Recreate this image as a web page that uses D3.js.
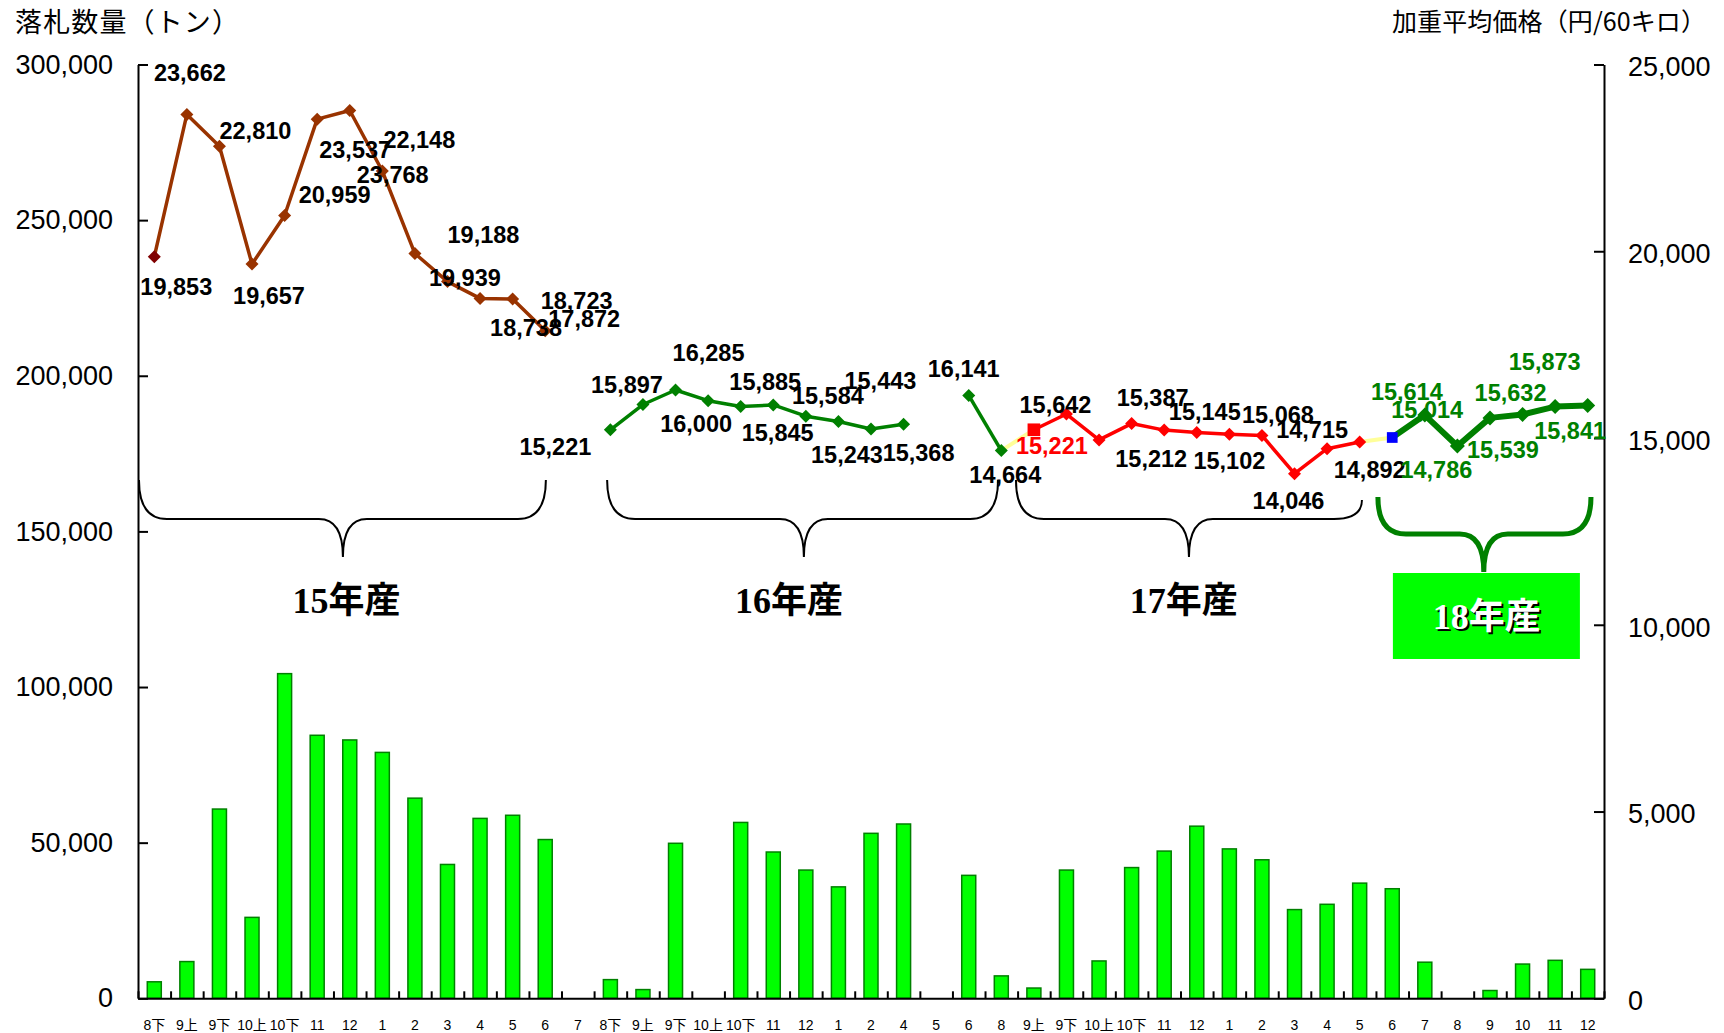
<!DOCTYPE html>
<html>
<head>
<meta charset="utf-8">
<script src="https://cdn.jsdelivr.net/npm/d3@7"></script>
<style>
  body { margin: 0; background: #fff; }
  text { font-family: 'Liberation Sans', Arial, 'Noto Sans CJK JP', sans-serif; }
</style>
</head>
<body>
<svg id="chart" width="1724" height="1033"></svg>
<script>
// categories (x axis), one per bar
const categories = [
  '8下', '9上', '9下', '10上', '10下', '11', '12', '1', '2', '3', '4', '5', '6', '7',
  '8下', '9上', '9下', '10上', '10下', '11', '12', '1', '2', '4', '5', '6', '8',
  '9上', '9下', '10上', '10下', '11', '12', '1', '2', '3', '4', '5', '6',
  '7', '8', '9', '10', '11', '12'
]

// 落札数量 (tons)
const volume = [
  5300, 11800, 60800, 26000, 104300, 84500, 83000, 79000, 64300, 43000, 57800, 58800, 51000, 0,
  6000, 2800, 49800, 0, 56500, 47000, 41200, 35800, 53000, 56000, 0, 39500, 7200,
  3300, 41200, 12000, 42000, 47300, 55300, 48000, 44500, 28500, 30200, 37000, 35200,
  11600, 0, 2500, 11000, 12200, 9300
]

// 加重平均価格 (円/60kg), each series starts at a category index
const price15 = [19853, 23662, 22810, 19657, 20959, 23537, 23768, 22148, 19939, 19188, 18738, 18723, 17872]
const price15Start = 0
const price16 = [15221, 15897, 16285, 16000, 15845, 15885, 15584, 15443, 15243, 15368]
const price16Start = 14
const price16b = [16141, 14664]
const price16bStart = 25
const price17 = [15221, 15642, 14950, 15387, 15212, 15145, 15102, 15068, 14046, 14715, 14892]
const price17Start = 27
const price18 = [15014, 15614, 14786, 15539, 15632, 15841, 15873]
const price18Start = 38

const leftTicks = [0, 50000, 100000, 150000, 200000, 250000, 300000]
const rightTicks = [0, 5000, 10000, 15000, 20000, 25000]

// label offsets from their point (px); null = no label
const lab15 = [[22, 30], [3, -42], [36, -16], [17, 31], [50, -21], [38, 30], [43, 64], [37, -31], [50, 24], [36, -47], [46, 29], [64, 2], [39, -12]]
const lab16 = [[-55, 17], [-16, -20], [33, -37], [-12, 23], [37, 26], [-8, -23], [22, -21], [42, -41], [-24, 26], [15, 28]]
const lab16b = [[-5, -27], [4, 24]]
const lab17 = [[18, 16], [-11, -10], null, [21, -26], [-13, 28], [8, -21], [0, 26], [16, -21], [-6, 27], [-15, -19], [10, 27]]
const lab18 = [[35, -28], [-18, -24], [-21, 24], [13, 32], [-12, -22], [15, 24], [-43, -44]]

// crop-year annotations, in category units
const groups = [
  { name: '15年産', from: 0.03, to: 12.52, tip: 6.29, text: 6.4 },
  { name: '16年産', from: 14.4, to: 26.4, tip: 20.44, text: 19.98 },
  { name: '17年産', from: 26.95, to: 37.57, tip: 32.26, text: 32.1 }
]

const svg = d3.select('#chart')
const margin = { top: 64.5, right: 120, bottom: 34.7, left: 138 }
const width = +svg.attr('width') - margin.left - margin.right
const height = +svg.attr('height') - margin.top - margin.bottom
const g = svg.append('g').attr('transform', 'translate(' + margin.left + ',' + margin.top + ')')

const x = d3.scaleBand()
  .domain(d3.range(categories.length))
  .range([0, width])
  .paddingInner(0.57)
  .paddingOuter(0.285)
const xc = (i) => x(i) + x.bandwidth() / 2
const xu = d3.scaleLinear().domain([0, categories.length]).range([0, width])

const yL = d3.scaleLinear().domain([0, 300000]).range([height, 0])
const yR = d3.scaleLinear().domain([0, 25000]).range([height, 0])

// bars
g.selectAll('rect.bar')
  .data(volume)
  .join('rect')
  .attr('class', 'bar')
  .attr('x', (d, i) => x(i))
  .attr('width', x.bandwidth())
  .attr('y', (d) => yL(d))
  .attr('height', (d) => height - yL(d))
  .attr('fill', '#00ff00')
  .attr('stroke', '#008000')
  .attr('stroke-width', 1.5)
  .style('display', (d) => (d > 0 ? null : 'none'))

// axes
const styleAxis = (sel, size) => {
  sel.select('.domain').attr('stroke', '#000').attr('stroke-width', 2)
  sel.selectAll('.tick line').attr('stroke', '#000').attr('stroke-width', 2)
  sel.selectAll('.tick text').attr('font-size', size).attr('fill', '#000')
    .style('font-family', "'Liberation Sans', Arial, 'Noto Sans CJK JP', sans-serif")
}

g.append('g')
  .call(d3.axisLeft(yL).tickValues(leftTicks).tickFormat(d3.format(',')).tickSizeInner(-10).tickSizeOuter(0).tickPadding(25))
  .call((s) => styleAxis(s, 27))

g.append('g')
  .attr('transform', `translate(${width},0)`)
  .call(d3.axisRight(yR).tickValues(rightTicks).tickFormat(d3.format(',')).tickSizeInner(-10).tickSizeOuter(0).tickPadding(24))
  .call((s) => styleAxis(s, 27))
  .call((s) => s.selectAll('.tick text').attr('dy', '0.42em'))

g.append('g')
  .attr('transform', `translate(0,${height})`)
  .call(d3.axisBottom(xu).tickValues(d3.range(0, categories.length + 1)).tickFormat('').tickSizeInner(-7).tickSizeOuter(0))
  .call((s) => styleAxis(s, 14))

g.append('g')
  .attr('transform', `translate(0,${height})`)
  .call(d3.axisBottom(x).tickFormat((i) => categories[i]).tickSize(0).tickPadding(22))
  .call((s) => {
    s.select('.domain').remove()
    s.selectAll('.tick text').attr('font-size', 14).attr('fill', '#000')
      .style('font-family', "'Liberation Sans', Arial, 'Noto Sans CJK JP', sans-serif")
  })

// axis titles
svg.append('text').attr('x', 15).attr('y', 32).attr('font-size', 27)
  .attr('textLength', 224).attr('lengthAdjust', 'spacing')
  .style('font-family', "'Noto Sans CJK JP', sans-serif").text('落札数量（トン）')
svg.append('text').attr('x', 1392).attr('y', 31).attr('font-size', 25)
  .attr('textLength', 314).attr('lengthAdjust', 'spacing')
  .style('font-family', "'Noto Sans CJK JP', sans-serif").text('加重平均価格（円/60キロ）')

// braces
const bracePath = (x0, x1, xm, yTopL, yTopR, yMid, yTip) => {
  const r = 28, c = 24
  return `M${x0},${yTopL} Q${x0},${yMid} ${x0 + r},${yMid} L${xm - c},${yMid} Q${xm},${yMid} ${xm},${yTip}` +
    ` Q${xm},${yMid} ${xm + c},${yMid} L${x1 - r},${yMid} Q${x1},${yMid} ${x1},${yTopR}`
}
const ann = svg.append('g').attr('transform', `translate(${margin.left},0)`)
groups.forEach((gr, k) => {
  ann.append('path')
    .attr('d', bracePath(xu(gr.from), xu(gr.to), xu(gr.tip), 480, k === 2 ? 500 : 480, 519, 557))
    .attr('fill', 'none').attr('stroke', '#000').attr('stroke-width', 2)
  ann.append('text')
    .attr('x', xu(gr.text)).attr('y', 601)
    .attr('text-anchor', 'middle').attr('dominant-baseline', 'central')
    .attr('font-size', 36).attr('font-weight', 'bold')
    .style('font-family', "'Liberation Serif', 'Noto Sans CJK JP', serif")
    .text(gr.name)
})
// 18年産: green brace and box
ann.append('path')
  .attr('d', bracePath(xu(38.06), xu(44.6), xu(41.31), 497, 497, 534, 572))
  .attr('fill', 'none').attr('stroke', '#008000').attr('stroke-width', 5)
ann.append('rect')
  .attr('x', xu(38.52)).attr('y', 573).attr('width', xu(44.26) - xu(38.52)).attr('height', 86)
  .attr('fill', '#00ff00')
;[['#000', 2], ['#fff', 0]].forEach(([col, off]) => {
  ann.append('text')
    .attr('x', xu(41.4) + off).attr('y', 617 + off)
    .attr('text-anchor', 'middle').attr('dominant-baseline', 'central')
    .attr('font-size', 36).attr('font-weight', 'bold').attr('fill', col)
    .style('font-family', "'Liberation Serif', 'Noto Sans CJK JP', serif")
    .text('18年産')
})

// price series
const toPts = (vals, start) => vals.map((v, k) => ({ i: start + k, v: v }))
const series = [
  { pts: toPts(price15, price15Start), labs: lab15, color: '#993300', w: 3.5, r: 6.5, labColor: () => '#000' },
  { pts: toPts(price16, price16Start), labs: lab16, color: '#008000', w: 3.5, r: 6.5, labColor: () => '#000' },
  { pts: toPts(price16b, price16bStart), labs: lab16b, color: '#008000', w: 3.5, r: 6.5, labColor: () => '#000' },
  { pts: toPts(price17, price17Start), labs: lab17, color: '#ff0000', w: 3.5, r: 6.5, labColor: (k) => (k === 0 ? '#ff0000' : '#000') },
  { pts: toPts(price18, price18Start), labs: lab18, color: '#008000', w: 6, r: 7.5, labColor: () => '#008000' }
]

const line = d3.line().x((d) => xc(d.i)).y((d) => yR(d.v))

// light yellow connectors between seasons
;[[series[2], series[3]], [series[3], series[4]]].forEach(([a, b]) => {
  g.append('path')
    .datum([a.pts[a.pts.length - 1], b.pts[0]])
    .attr('d', line)
    .attr('fill', 'none').attr('stroke', '#ffff99').attr('stroke-width', 4)
})

series.forEach((s) => {
  g.append('path').datum(s.pts).attr('d', line)
    .attr('fill', 'none').attr('stroke', s.color).attr('stroke-width', s.w).attr('stroke-linejoin', 'round')
})

const diamond = (r) => `M0,${-r}L${r},0L0,${r}L${-r},0Z`
series.forEach((s, si) => {
  g.selectAll(null).data(s.pts).join('path')
    .attr('transform', (d) => `translate(${xc(d.i)},${yR(d.v)})`)
    .attr('d', (d, k) => {
      if ((si === 3 || si === 4) && k === 0) return d3.symbol(d3.symbolSquare, si === 3 ? 160 : 115)()
      return diamond(s.r)
    })
    .attr('fill', (d, k) => {
      if (si === 0 && k === 0) return '#800000'
      if (si === 4 && k === 0) return '#0000ff'
      return s.color
    })
})

const fmt = d3.format(',')
series.forEach((s) => {
  g.selectAll(null).data(s.pts.filter((d, k) => s.labs[k])).join('text')
    .attr('x', (d) => xc(d.i) + s.labs[s.pts.indexOf(d)][0])
    .attr('y', (d) => yR(d.v) + s.labs[s.pts.indexOf(d)][1])
    .attr('dy', '0.36em')
    .attr('text-anchor', 'middle')
    .attr('font-size', 23.5).attr('font-weight', 'bold')
    .attr('fill', (d) => s.labColor(s.pts.indexOf(d)))
    .text((d) => fmt(d.v))
})
</script>
</body>
</html>
